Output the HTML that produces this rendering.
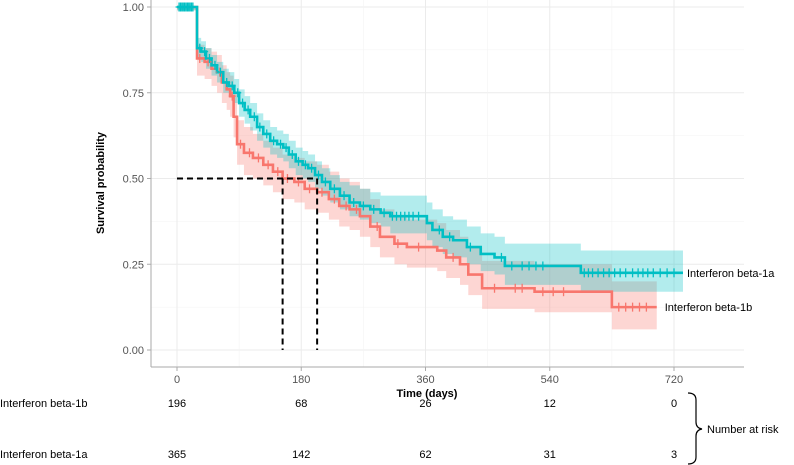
<!DOCTYPE html>
<html><head><meta charset="utf-8"><style>
html,body{margin:0;padding:0;background:#fff;}
svg{display:block;font-family:"Liberation Sans",Arial,sans-serif;}
</style></head><body>
<svg id="chart" width="794" height="465" viewBox="0 0 794 465"></svg>
<script>
const xTicks=[0,180,360,540,720];
const yTicks=[0,0.25,0.5,0.75,1.0];
const yTickLabels=["0.00","0.25","0.50","0.75","1.00"];
const groups=["Interferon beta-1b","Interferon beta-1a"];
const riskB=[196,68,26,12,0];
const riskA=[365,142,62,31,3];
// teal (beta-1a)
const timesA=[0,29,35,42,50,58,67,75,83,90,98,106,116,125,135,145,154,162,172,182,190,200,210,222,236,250,265,280,295,309,362,370,385,400,420,440,460,475,585];
const survA=[1.0,.88,.87,.85,.83,.81,.78,.77,.75,.72,.70,.68,.65,.63,.61,.60,.59,.57,.55,.54,.53,.51,.49,.47,.45,.43,.42,.41,.40,.39,.37,.35,.33,.32,.30,.28,.27,.245,.225];
const upA=[1.0,.91,.90,.88,.86,.84,.82,.81,.79,.76,.74,.72,.69,.67,.65,.64,.63,.61,.59,.58,.57,.55,.53,.51,.49,.48,.47,.46,.45,.45,.43,.41,.39,.38,.36,.34,.33,.31,.29];
const lowA=[.99,.85,.84,.82,.80,.78,.75,.74,.72,.68,.66,.64,.61,.59,.57,.56,.55,.53,.51,.50,.49,.47,.45,.43,.41,.39,.38,.37,.36,.34,.32,.30,.28,.27,.25,.23,.22,.19,.17];
const endA=733;
// red (beta-1b)
const timesB=[0,29,40,50,58,65,72,77,82,87,97,110,125,139,153,170,185,203,220,235,250,265,280,294,315,333,377,390,410,422,442,518,630];
const survB=[1.0,.85,.84,.82,.81,.78,.76,.74,.68,.60,.575,.56,.54,.52,.50,.49,.47,.46,.44,.42,.41,.39,.36,.33,.31,.30,.29,.27,.25,.22,.18,.17,.125];
const upB=[1.0,.89,.88,.87,.86,.83,.81,.80,.75,.67,.65,.63,.61,.59,.57,.56,.55,.54,.52,.50,.49,.47,.44,.41,.39,.38,.37,.35,.33,.30,.26,.25,.20];
const lowB=[.99,.80,.79,.77,.75,.72,.70,.68,.62,.54,.51,.50,.48,.46,.44,.43,.41,.40,.38,.36,.35,.33,.30,.27,.25,.24,.23,.21,.19,.16,.12,.11,.06];
const endB=695;
const censA=[3,5,7,9,11,13,15,17,19,21,23,33,40,47,55,63,72,80,88,95,103,112,120,130,140,150,158,167,176,186,195,205,215,228,242,256,270,285,300,312,318,324,330,336,342,350,380,395,425,470,485,500,510,520,530,590,596,602,610,618,626,634,642,650,660,668,675,682,690,700,710,720];
const censB=[33,45,62,80,92,105,118,132,146,160,176,192,210,228,245,260,290,320,350,400,460,490,500,530,545,560,640,650,660,670,680];
const medians=[153,203];

const svg=document.getElementById('chart');
const NS='http://www.w3.org/2000/svg';
const X=t=>177+t*(674-177)/720;
const Y=p=>350-p*343;
function mk(tag,attrs,parent){const e=document.createElementNS(NS,tag);for(const k in attrs)e.setAttribute(k,attrs[k]);(parent||svg).appendChild(e);return e;}
const grid=mk('g',{});


for(let i=0;i<yTicks.length;i++){mk('line',{x1:151,x2:744,y1:Y(yTicks[i]),y2:Y(yTicks[i]),stroke:'#ebebeb','stroke-width':1},grid);
 if(i<yTicks.length-1){const m=(yTicks[i]+yTicks[i+1])/2;mk('line',{x1:151,x2:744,y1:Y(m),y2:Y(m),stroke:'#f3f3f3','stroke-width':0.6},grid);}}
for(let i=0;i<xTicks.length;i++){mk('line',{y1:0,y2:367,x1:X(xTicks[i]),x2:X(xTicks[i]),stroke:'#ebebeb','stroke-width':1},grid);
 if(i<xTicks.length-1){const m=(xTicks[i]+xTicks[i+1])/2;mk('line',{y1:0,y2:367,x1:X(m),x2:X(m),stroke:'#f3f3f3','stroke-width':0.6},grid);}}
const yax=mk('line',{x1:151,x2:151,y1:0,y2:367,stroke:'#aaa','stroke-width':1});


const xax=mk('line',{x1:151,x2:744,y1:367,y2:367,stroke:'#aaa','stroke-width':1});


for(let i=0;i<yTicks.length;i++){mk('line',{x1:147,x2:151,y1:Y(yTicks[i]),y2:Y(yTicks[i]),stroke:'#aaa'});
 const t=mk('text',{x:144,y:Y(yTicks[i])+4,'text-anchor':'end','font-size':11,fill:'#555'});t.textContent=yTickLabels[i];
 
 }
for(let i=0;i<xTicks.length;i++){mk('line',{x1:X(xTicks[i]),x2:X(xTicks[i]),y1:367,y2:371,stroke:'#aaa'});
 const t=mk('text',{x:X(xTicks[i]),y:383,'text-anchor':'middle','font-size':11,fill:'#555'});t.textContent=xTicks[i];
 
 }
const yt=mk('text',{x:0,y:0,transform:'translate(104,183) rotate(-90)','text-anchor':'middle','font-size':11,'font-weight':'bold',fill:'#000'});yt.textContent='Survival probability';


const xt=mk('text',{x:427,y:397,'text-anchor':'middle','font-size':11,'font-weight':'bold',fill:'#000'});xt.textContent='Time (days)';



function stepPath(ts,vs,end){let d='M'+X(ts[0])+','+Y(vs[0]);for(let i=1;i<ts.length;i++){d+='H'+X(ts[i])+'V'+Y(vs[i]);}d+='H'+X(end);return d;}
function band(ts,lo,up,end,color,name){let pts=[];for(let i=0;i<ts.length;i++){const x2=i<ts.length-1?X(ts[i+1]):X(end);pts.push([X(ts[i]),Y(up[i])],[x2,Y(up[i])]);}
 let low=[];for(let i=ts.length-1;i>=0;i--){const x2=i<ts.length-1?X(ts[i+1]):X(end);low.push([x2,Y(lo[i])],[X(ts[i]),Y(lo[i])]);}
 const p=mk('polygon',{points:pts.concat(low).map(a=>a.join(',')).join(' '),fill:color,'fill-opacity':0.3});
 
 }
function survAt(ts,vs,t){let v=vs[0];for(let i=0;i<ts.length;i++)if(ts[i]<=t)v=vs[i];return v;}
band(timesB,lowB,upB,endB,'#F8766D','ci-band-beta-1b');
band(timesA,lowA,upA,endA,'#00BFC4','ci-band-beta-1a');
const lb=mk('path',{d:stepPath(timesB,survB,endB),fill:'none',stroke:'#F8766D','stroke-width':2.6});


const la=mk('path',{d:stepPath(timesA,survA,endA),fill:'none',stroke:'#00BFC4','stroke-width':2.6});


function cens(ts,vs,cs,color,name){const g=mk('g',{stroke:color,'stroke-width':1.3});
 cs.forEach(c=>{const x=X(c),y=Y(survAt(ts,vs,c));mk('line',{x1:x,x2:x,y1:y-4.5,y2:y+4.5},g);mk('line',{x1:x-3.5,x2:x+3.5,y1:y,y2:y},g);});}
cens(timesB,survB,censB,'#F8766D','censor-marks-beta-1b');
cens(timesA,survA,censA,'#00BFC4','censor-marks-beta-1a');
const med=mk('g',{stroke:'#000','stroke-width':2,'stroke-dasharray':'6,4',fill:'none'});


mk('line',{x1:X(0),x2:X(medians[1]),y1:Y(0.5),y2:Y(0.5)},med);
medians.forEach(m=>mk('line',{x1:X(m),x2:X(m),y1:Y(0.5),y2:Y(0)},med));
const ea=mk('text',{x:X(endA)+4,y:Y(survA[survA.length-1])+4,'font-size':11,fill:'#000'});ea.textContent=groups[1];


const eb=mk('text',{x:X(endB)+8,y:Y(survB[survB.length-1])+4,'font-size':11,fill:'#000'});eb.textContent=groups[0];


[[riskB,403,groups[0]],[riskA,454,groups[1]]].forEach(([r,y,n])=>{
 const l=mk('text',{x:0,y:y+4,'font-size':11,fill:'#000'});l.textContent=n;
 
 
 r.forEach((v,i)=>{const t=mk('text',{x:X(xTicks[i]),y:y+4,'text-anchor':'middle','font-size':11,fill:'#000'});t.textContent=v;
  
  });});
const br=mk('path',{d:'M688,393 Q696,393 696,400 V422 Q696,428 702,429 Q696,430 696,436 V457 Q696,464 688,464',fill:'none',stroke:'#000','stroke-width':1.2});


const nr=mk('text',{x:707,y:433,'font-size':11,fill:'#000'});nr.textContent='Number at risk';


</script>
</body></html>
